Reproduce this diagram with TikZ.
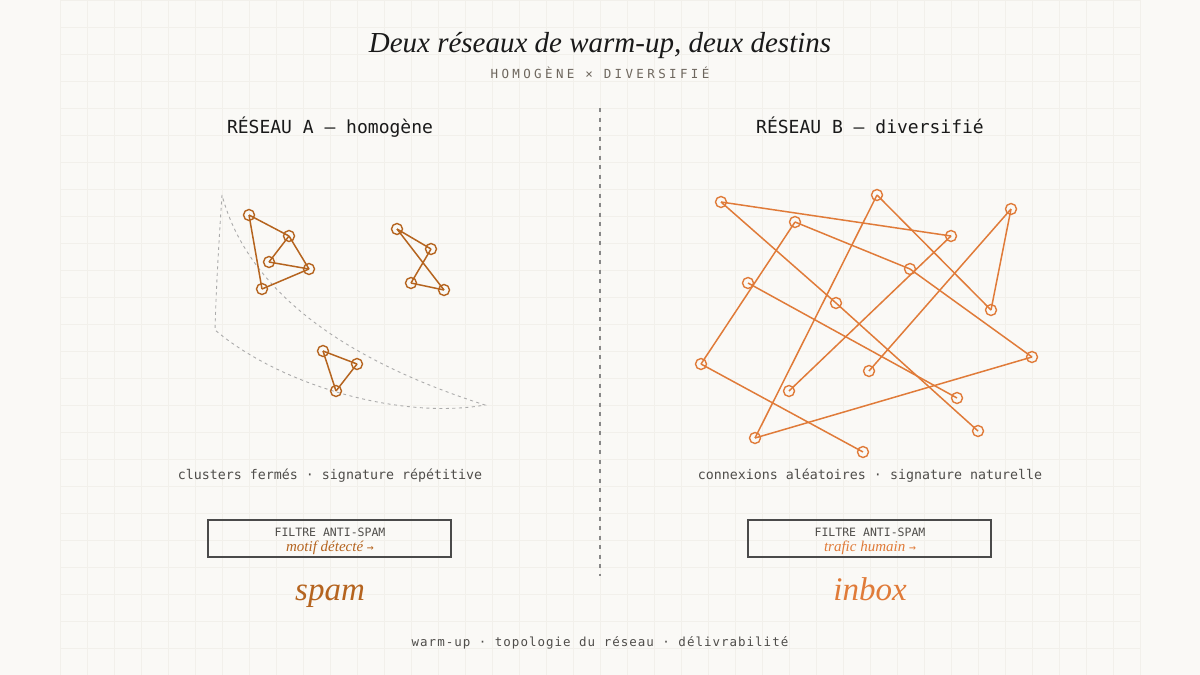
\documentclass[tikz,border=0pt]{standalone}
\usepackage{fontspec}
\newfontfamily\monof{DejaVu Sans Mono}
\newfontfamily\monosp[LetterSpace=27]{DejaVu Sans Mono}
\newfontfamily\monospb[LetterSpace=8]{DejaVu Sans Mono}
\newfontfamily\serifit{Liberation Serif}
\definecolor{bgc}{HTML}{FAF9F6}
\definecolor{gridc}{HTML}{F2F0EB}
\definecolor{leftc}{HTML}{B5641F}
\definecolor{rightc}{HTML}{E07B39}
\definecolor{inkc}{HTML}{1A1A1A}
\definecolor{grayc}{HTML}{4F4D4A}
\definecolor{subc}{HTML}{6E675E}
\definecolor{boxc}{HTML}{4A4A4A}
\definecolor{dashc}{HTML}{ABABAB}
\definecolor{divc}{HTML}{888888}
\begin{document}
\begin{tikzpicture}[x=1pt,y=-1pt,
  gridline/.style={draw=gridc, line width=0.6pt},
  lnode/.style={circle, draw=leftc, line width=1.4pt, minimum size=11pt, inner sep=0pt},
  rnode/.style={circle, draw=rightc, line width=1.4pt, minimum size=11pt, inner sep=0pt},
  ledge/.style={draw=leftc, line width=1.5pt},
  redge/.style={draw=rightc, line width=1.5pt},
  monotxt/.style={font=\monof, text=grayc, inner sep=0pt, anchor=base},
  headtxt/.style={font=\monof\fontsize{18}{20}\selectfont, text=inkc, inner sep=0pt, anchor=base},
  filterbox/.style={draw=boxc, line width=1.2pt},
]
\fill[bgc] (0,0) rectangle (1200,675);
\useasboundingbox (0,0) rectangle (1200,675);
\foreach \i in {0,...,40} \draw[gridline] ({60+27*\i},0) -- ({60+27*\i},675);
\foreach \j in {0,...,25} \draw[gridline] (60,{27*\j}) -- (1140,{27*\j});

% titles
\node[inner sep=0pt, anchor=base, text=inkc, font=\serifit\itshape\fontsize{29}{33}\selectfont] (title) at (600,52) {Deux réseaux de warm-up, deux destins};
\node[inner sep=0pt, anchor=base, text=subc, font=\monosp\fontsize{12.5}{14}\selectfont] (sub) at (600,78) {HOMOGÈNE × DIVERSIFIÉ};

% divider
\coordinate (dtop) at (600,108);
\coordinate (dbot) at (600,576);
\draw[divc, line width=1.3pt, dash pattern=on 4pt off 5.5pt] (dtop) -- (dbot);

% headings
\node[headtxt] (ha) at (330,133) {RÉSEAU A — homogène};
\node[headtxt] (hb) at (870,133) {RÉSEAU B — diversifié};

% crescent (left)
\draw[dashc, line width=0.9pt, dash pattern=on 3pt off 3.5pt]
  (222,195) .. controls (219,240) and (216,290) .. (215,330)
  .. controls (280,385) and (400,420) .. (485,405)
  .. controls (360,365) and (250,300) .. (222,195);

% left network
\node[lnode] (a1) at (249,215) {};
\node[lnode] (a2) at (289,236) {};
\node[lnode] (a3) at (269,262) {};
\node[lnode] (a4) at (309,269) {};
\node[lnode] (a5) at (262,289) {};
\node[lnode] (b1) at (397,229) {};
\node[lnode] (b2) at (431,249) {};
\node[lnode] (b3) at (411,283) {};
\node[lnode] (b4) at (444,290) {};
\node[lnode] (c1) at (323,351) {};
\node[lnode] (c2) at (357,364) {};
\node[lnode] (c3) at (336,391) {};
\foreach \u/\v in {a1/a2,a1/a5,a2/a3,a2/a4,a3/a4,a5/a4,b1/b2,b1/b4,b2/b3,b3/b4,c1/c2,c1/c3,c2/c3}
  \draw[ledge] (\u.center) -- (\v.center);

% right network
\node[rnode] (r1) at (721,202) {};
\node[rnode] (r2) at (877,195) {};
\node[rnode] (r3) at (1011,209) {};
\node[rnode] (r4) at (795,222) {};
\node[rnode] (r5) at (951,236) {};
\node[rnode] (r6) at (910,269) {};
\node[rnode] (r7) at (748,283) {};
\node[rnode] (r8) at (836,303) {};
\node[rnode] (r9) at (991,310) {};
\node[rnode] (r10) at (1032,357) {};
\node[rnode] (r11) at (701,364) {};
\node[rnode] (r12) at (869,371) {};
\node[rnode] (r13) at (789,391) {};
\node[rnode] (r14) at (957,398) {};
\node[rnode] (r15) at (978,431) {};
\node[rnode] (r16) at (755,438) {};
\node[rnode] (r17) at (863,452) {};
\foreach \u/\v in {r1/r5,r1/r8,r8/r15,r2/r9,r2/r16,r3/r9,r3/r12,r4/r11,r4/r6,r6/r10,r5/r13,r7/r14,r11/r17,r16/r10}
  \draw[redge] (\u.center) -- (\v.center);

% captions
\node[monotxt, font=\monof\fontsize{13.3}{15}\selectfont] (capa) at (330,479) {clusters fermés · signature répétitive};
\node[monotxt, font=\monof\fontsize{13.3}{15}\selectfont] (capb) at (870,479) {connexions aléatoires · signature naturelle};

% filter boxes
\draw[filterbox] (208,520) rectangle (451,557);
\draw[filterbox] (748,520) rectangle (991,557);
\node[monotxt, font=\monof\fontsize{11.5}{13}\selectfont] (fa) at (330,536) {FILTRE ANTI-SPAM};
\node[monotxt, font=\monof\fontsize{11.5}{13}\selectfont] (fb) at (870,536) {FILTRE ANTI-SPAM};
\node[inner sep=0pt, anchor=base, text=leftc, font=\serifit\itshape\fontsize{15}{17}\selectfont] (ma) at (330,551) {motif détecté \monof\fontsize{11.5}{12}\selectfont →};
\node[inner sep=0pt, anchor=base, text=rightc, font=\serifit\itshape\fontsize{15}{17}\selectfont] (mb) at (870,551) {trafic humain \monof\fontsize{11.5}{12}\selectfont →};

% outcomes
\node[inner sep=0pt, anchor=base, text=leftc, font=\serifit\itshape\fontsize{33}{36}\selectfont] (spam) at (330,600) {spam};
\node[inner sep=0pt, anchor=base, text=rightc, font=\serifit\itshape\fontsize{33}{36}\selectfont] (inbox) at (870,600) {inbox};

% footer
\node[inner sep=0pt, anchor=base, text=grayc, font=\monospb\fontsize{12.5}{14}\selectfont] (foot) at (600,646) {warm-up · topologie du réseau · délivrabilité};
\end{tikzpicture}
\end{document}
